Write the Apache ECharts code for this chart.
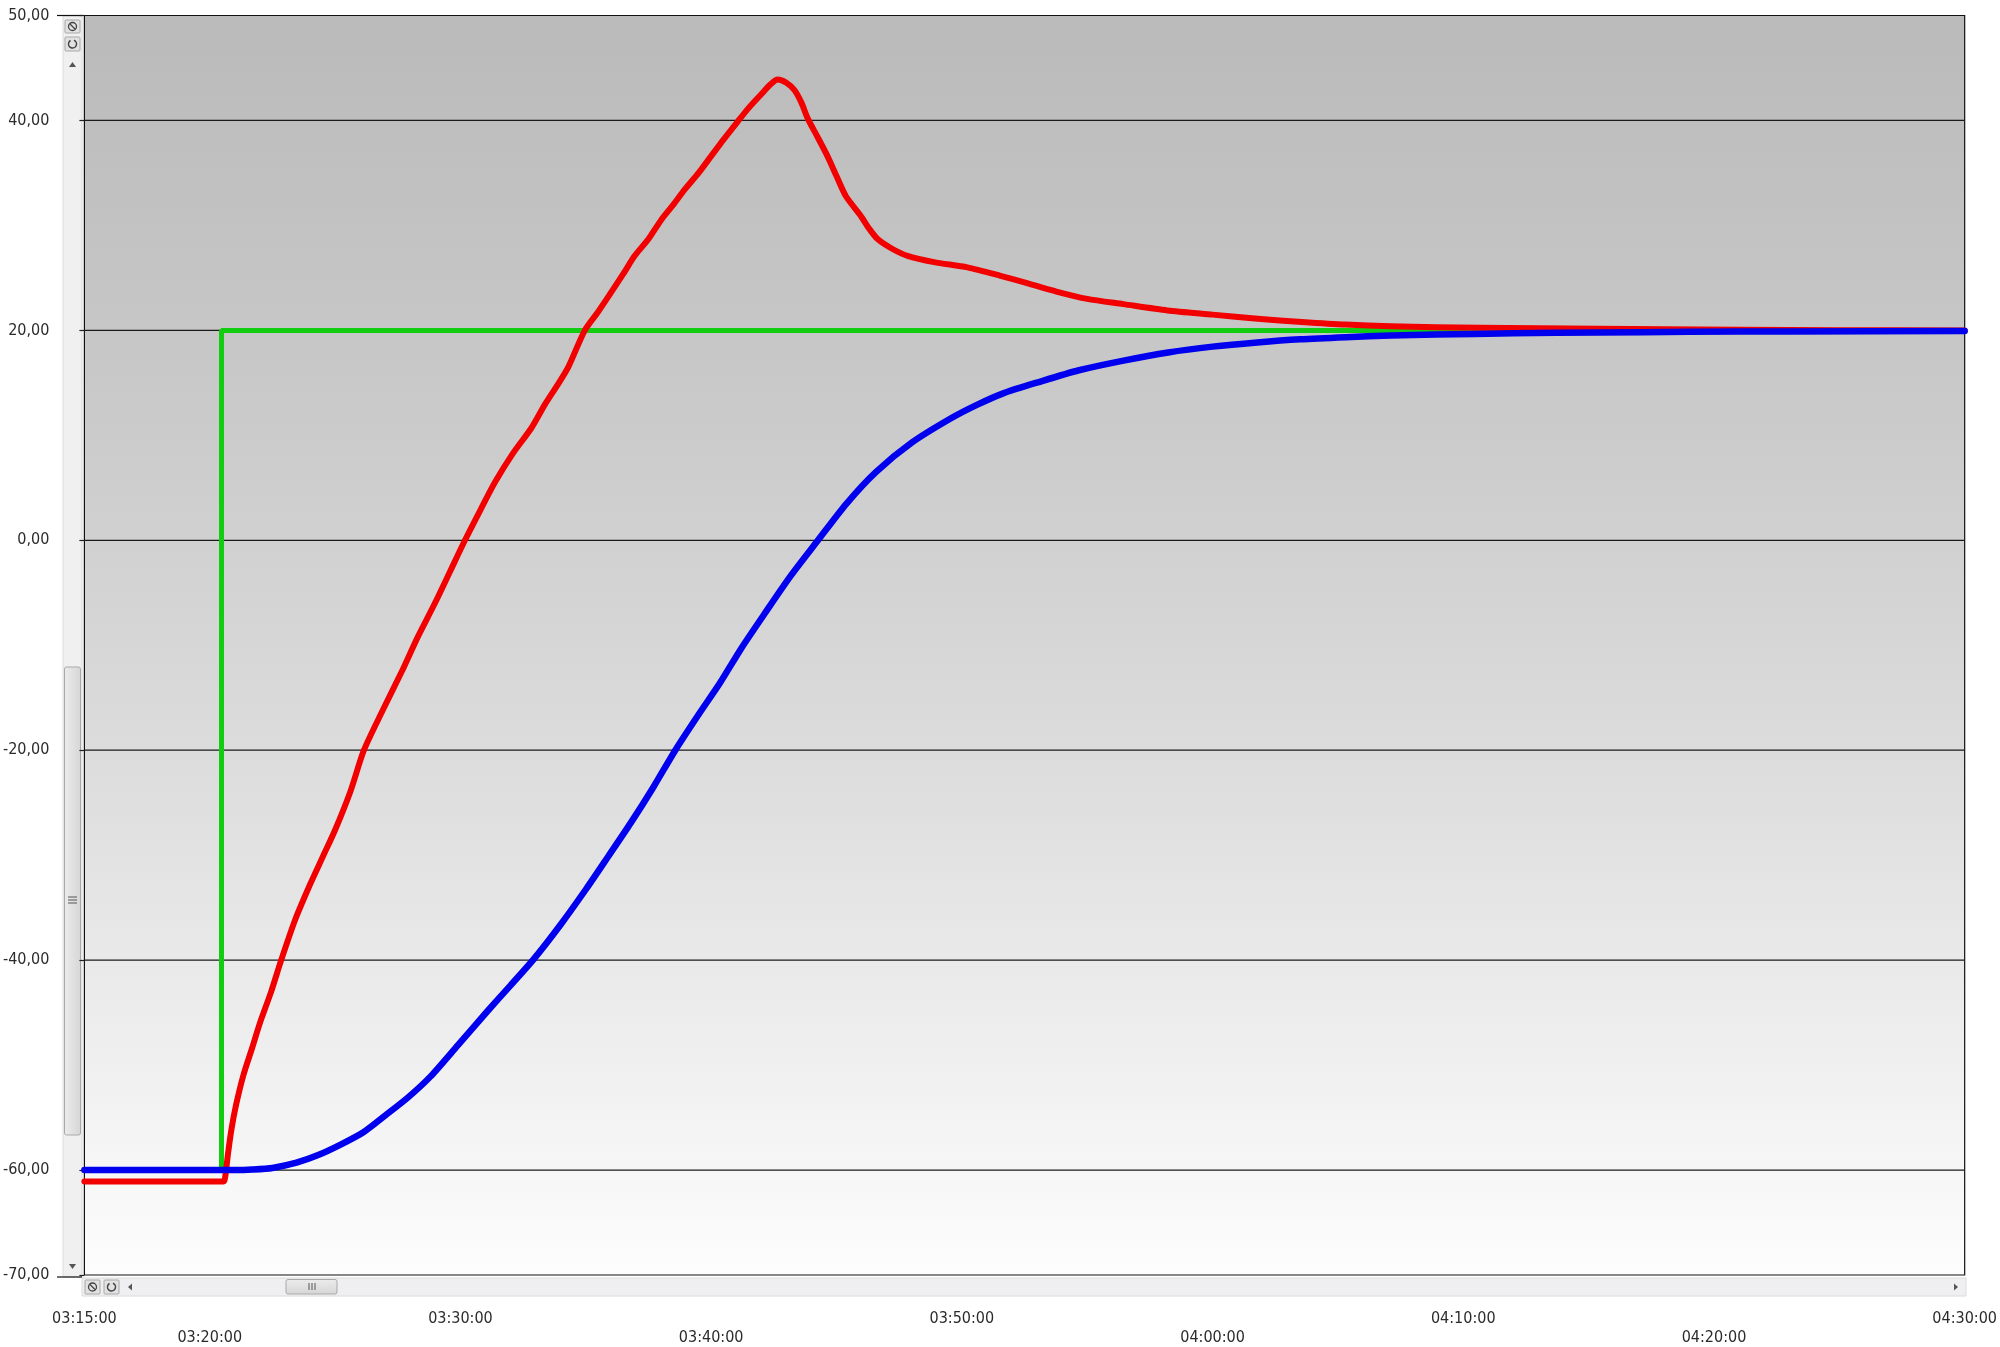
<!DOCTYPE html>
<html>
<head>
<meta charset="utf-8">
<script src="https://cdn.jsdelivr.net/npm/echarts@6/dist/echarts.min.js"></script>
<style>
html,body{margin:0;padding:0;background:#fff;}
#chart{width:2000px;height:1347px;}
</style>
</head>
<body>
<div id="chart"></div>
<script>
// Time in minutes since 03:15:00
const xTickMinutes = [0, 5, 15, 25, 35, 45, 55, 65, 75];
const xTickLabels = ['03:15:00', '03:20:00', '03:30:00', '03:40:00', '03:50:00', '04:00:00', '04:10:00', '04:20:00', '04:30:00'];
const xLowerRow = [false, true, false, true, false, true, false, true, false];
const yTickValues = [50, 40, 20, 0, -20, -40, -60, -70];
const gridValues = [40, 20, 0, -20, -40, -60];

const greenData = [[0, -60], [5.47, -60], [5.47, 20], [75, 20]];

const redData = [
  [0, -61.1], [5.55, -61.1], [5.62, -60.6], [5.72, -58.6], [5.86, -56.2], [6.05, -53.8],
  [6.35, -50.9], [6.7, -48.3], [7.0, -46.0], [7.45, -43.0], [7.85, -40.0], [8.4, -36.2],
  [9.0, -32.8], [9.5, -30.2], [10.0, -27.6], [10.6, -24.0], [11.15, -20.0], [11.9, -16.2],
  [12.66, -12.5], [13.3, -9.2], [13.98, -6.0], [14.6, -2.9], [15.18, 0.0], [15.8, 2.9],
  [16.37, 5.5], [17.1, 8.3], [17.83, 10.7], [18.36, 12.9], [18.9, 14.9], [19.3, 16.5],
  [19.96, 20.0], [20.5, 21.8], [20.95, 23.4], [21.5, 25.4], [21.95, 27.1], [22.5, 28.7],
  [23.0, 30.5], [23.5, 32.0], [23.94, 33.4], [24.5, 35.0], [25.0, 36.6], [25.5, 38.2],
  [26.06, 39.9], [26.5, 41.2], [27.0, 42.5], [27.35, 43.4], [27.65, 43.9], [28.0, 43.6],
  [28.32, 42.9], [28.6, 41.7], [28.85, 40.2], [29.25, 38.4], [29.64, 36.6], [30.0, 34.7],
  [30.37, 32.8], [30.97, 30.9], [31.3, 29.7], [31.64, 28.7], [32.2, 27.8], [32.83, 27.1],
  [33.89, 26.5], [35.22, 26.0], [36.54, 25.2], [37.6, 24.5], [38.77, 23.7], [40.0, 23.0],
  [41.44, 22.5], [43.2, 21.9], [45.0, 21.5], [46.8, 21.1], [48.56, 20.8], [50.3, 20.55],
  [52.1, 20.4], [53.9, 20.3], [55.65, 20.25], [58.0, 20.2], [60.4, 20.15], [63.0, 20.1],
  [66.0, 20.05], [70.0, 20.02], [75.0, 20.0]
];

const blueData = [
  [0, -60.0], [6.0, -60.0], [6.7, -59.95], [7.5, -59.8], [8.46, -59.3], [9.3, -58.6],
  [10.2, -57.6], [11.13, -56.4], [12.0, -54.8], [12.9, -53.1], [13.8, -51.1], [14.9, -48.1],
  [16.1, -44.8], [17.0, -42.4], [17.89, -40.0], [19.0, -36.6], [20.02, -33.2], [20.9, -30.1],
  [21.8, -26.9], [22.7, -23.5], [23.57, -20.0], [24.5, -16.6], [25.35, -13.6], [26.2, -10.3],
  [27.13, -7.0], [28.2, -3.3], [29.26, 0.0], [30.4, 3.5], [31.57, 6.5], [33.0, 9.3],
  [34.55, 11.6], [35.6, 12.9], [36.65, 14.0], [38.1, 15.1], [39.67, 16.2], [41.4, 17.1],
  [43.23, 17.9], [45.0, 18.45], [46.78, 18.85], [48.5, 19.15], [50.32, 19.35], [52.1, 19.5],
  [53.89, 19.6], [57.0, 19.72], [60.4, 19.8], [64.0, 19.86], [68.0, 19.9], [75.0, 19.93]
];

const FONT = "'Liberation Sans Narrow', 'DejaVu Sans Condensed', 'Liberation Sans', sans-serif";
const chart = echarts.init(document.getElementById('chart'), null, {renderer: 'canvas'});

const gridSeries = gridValues.map(v => ({
  type: 'line', data: [[0, v], [75, v]], symbol: 'none', silent: true, z: 1,
  lineStyle: {color: '#1a1a1a', width: 1.2}
}));

// Scrollbar decorations (UI chrome, not data)
const scrollbars = [
  {type: 'rect', shape: {x: 63, y: 16, width: 19, height: 1261}, style: {fill: '#f0f0f0', stroke: '#dcdcdc'}},
  {type: 'rect', shape: {x: 65, y: 20, width: 15, height: 13, r: 1}, style: {fill: '#e2e2e2', stroke: '#a8a8a8'}},
  {type: 'circle', shape: {cx: 72.5, cy: 26.5, r: 4}, style: {fill: 'none', stroke: '#444', lineWidth: 1.3}},
  {type: 'line', shape: {x1: 69.5, y1: 23.5, x2: 75.5, y2: 29.5}, style: {stroke: '#444', lineWidth: 1.3}},
  {type: 'rect', shape: {x: 65, y: 37, width: 15, height: 14, r: 1}, style: {fill: '#e2e2e2', stroke: '#a8a8a8'}},
  {type: 'arc', shape: {cx: 72.5, cy: 44, r: 4, startAngle: -1.2, endAngle: 4.2}, style: {fill: 'none', stroke: '#444', lineWidth: 1.5}},
  {type: 'polygon', shape: {points: [[69, 67], [76, 67], [72.5, 62]]}, style: {fill: '#555'}},
  {type: 'rect', shape: {x: 64.5, y: 667, width: 16, height: 468, r: 2},
    style: {fill: new echarts.graphic.LinearGradient(0, 0, 1, 0, [{offset: 0, color: '#ececec'}, {offset: 1, color: '#d6d6d6'}]), stroke: '#a9a9a9'}},
  {type: 'line', shape: {x1: 68, y1: 897, x2: 77, y2: 897}, style: {stroke: '#555', lineWidth: 1}},
  {type: 'line', shape: {x1: 68, y1: 900, x2: 77, y2: 900}, style: {stroke: '#555', lineWidth: 1}},
  {type: 'line', shape: {x1: 68, y1: 903, x2: 77, y2: 903}, style: {stroke: '#555', lineWidth: 1}},
  {type: 'polygon', shape: {points: [[69, 1264], [76, 1264], [72.5, 1269]]}, style: {fill: '#555'}},
  {type: 'line', shape: {x1: 57, y1: 15.5, x2: 82, y2: 15.5}, style: {stroke: '#111', lineWidth: 1.2}},
  {type: 'line', shape: {x1: 57, y1: 1277, x2: 82, y2: 1277}, style: {stroke: '#111', lineWidth: 1.2}},

  {type: 'rect', shape: {x: 82, y: 1278, width: 1884, height: 18}, style: {fill: '#efeff1', stroke: '#dcdcdc'}},
  {type: 'rect', shape: {x: 85, y: 1280, width: 15, height: 14, r: 1}, style: {fill: '#e2e2e2', stroke: '#a8a8a8'}},
  {type: 'circle', shape: {cx: 92.5, cy: 1287, r: 4}, style: {fill: 'none', stroke: '#444', lineWidth: 1.3}},
  {type: 'line', shape: {x1: 89.5, y1: 1284, x2: 95.5, y2: 1290}, style: {stroke: '#444', lineWidth: 1.3}},
  {type: 'rect', shape: {x: 104, y: 1280, width: 15, height: 14, r: 1}, style: {fill: '#e2e2e2', stroke: '#a8a8a8'}},
  {type: 'arc', shape: {cx: 111.5, cy: 1287, r: 4, startAngle: -1.2, endAngle: 4.2}, style: {fill: 'none', stroke: '#444', lineWidth: 1.5}},
  {type: 'polygon', shape: {points: [[132, 1283.5], [132, 1290.5], [128, 1287]]}, style: {fill: '#555'}},
  {type: 'rect', shape: {x: 286, y: 1279.5, width: 51, height: 14.5, r: 2},
    style: {fill: new echarts.graphic.LinearGradient(0, 0, 0, 1, [{offset: 0, color: '#ececec'}, {offset: 1, color: '#d6d6d6'}]), stroke: '#a9a9a9'}},
  {type: 'line', shape: {x1: 309, y1: 1283, x2: 309, y2: 1290}, style: {stroke: '#555', lineWidth: 1}},
  {type: 'line', shape: {x1: 312, y1: 1283, x2: 312, y2: 1290}, style: {stroke: '#555', lineWidth: 1}},
  {type: 'line', shape: {x1: 315, y1: 1283, x2: 315, y2: 1290}, style: {stroke: '#555', lineWidth: 1}},
  {type: 'polygon', shape: {points: [[1954, 1283.5], [1954, 1290.5], [1958, 1287]]}, style: {fill: '#555'}}
];

const option = {
  animation: false,
  backgroundColor: '#ffffff',
  grid: {
    left: 82, right: 34, top: 15.5, bottom: 70,
    show: true,
    borderColor: '#111', borderWidth: 1.2,
    backgroundColor: new echarts.graphic.LinearGradient(0, 0, 0, 1, [
      {offset: 0, color: '#bababa'},
      {offset: 0.3, color: '#c9c9c9'},
      {offset: 0.6, color: '#dddddd'},
      {offset: 1, color: '#fdfdfd'}
    ])
  },
  xAxis: {
    type: 'value', min: 0, max: 75,
    axisLine: {show: false}, axisTick: {show: false}, splitLine: {show: false},
    axisLabel: {
      customValues: xTickMinutes,
      margin: 34,
      color: '#2b2b2b', fontSize: 16, fontFamily: FONT, lineHeight: 19,
      formatter: function (v) {
        const i = xTickMinutes.indexOf(v);
        if (i < 0) return '';
        return (xLowerRow[i] ? '\n' : '') + xTickLabels[i];
      }
    }
  },
  yAxis: {
    type: 'value', min: -70, max: 50, interval: 10, offset: 20,
    axisLine: {show: false},
    splitLine: {show: false},
    axisTick: {show: true, length: 5, customValues: yTickValues, lineStyle: {color: '#222', width: 1.2}},
    axisLabel: {
      customValues: yTickValues,
      margin: 15,
      color: '#2b2b2b', fontSize: 16, fontFamily: FONT,
      formatter: v => v.toFixed(2).replace('.', ',')
    }
  },
  graphic: {elements: scrollbars},
  series: gridSeries.concat([
    {type: 'line', name: 'green', data: greenData, symbol: 'none', z: 3,
      lineStyle: {color: '#12cc12', width: 5}},
    {type: 'line', name: 'red', data: redData, symbol: 'none', z: 4, smooth: 0.25,
      lineStyle: {color: '#f20000', width: 6, cap: 'round', join: 'round'}},
    {type: 'line', name: 'blue', data: blueData, symbol: 'none', z: 5, smooth: 0.25,
      lineStyle: {color: '#0000ee', width: 6.5, cap: 'round', join: 'round'}}
  ])
};
chart.setOption(option);
</script>
</body>
</html>
